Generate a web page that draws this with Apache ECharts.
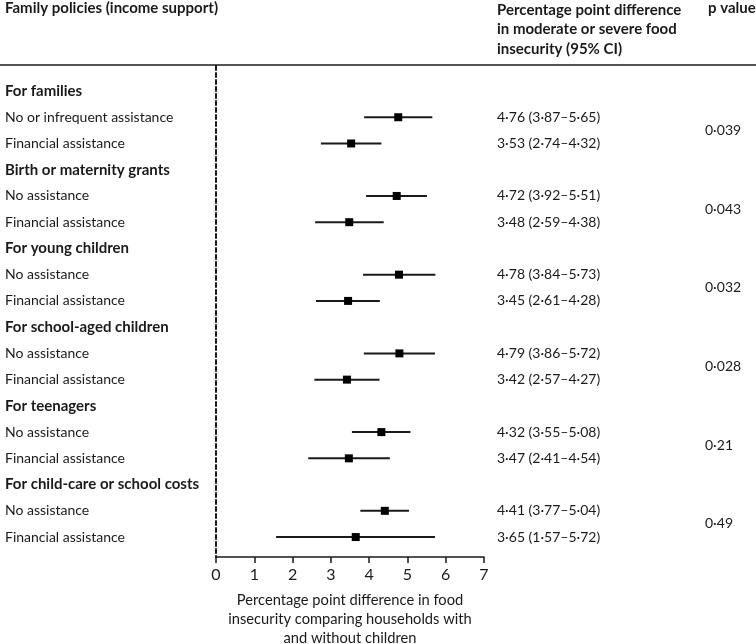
<!DOCTYPE html>
<html><head><meta charset="utf-8">
<script src="https://cdn.jsdelivr.net/npm/echarts@6/dist/echarts.min.js"></script>
<style>html,body{margin:0;padding:0;background:#fff}#c{width:756px;height:644px}</style>
</head><body><div id="c"></div>
<script>
const groups = ['For families','Birth or maternity grants','For young children','For school-aged children','For teenagers','For child-care or school costs'];
const rowLabels = [
  ['No or infrequent assistance','Financial assistance'],
  ['No assistance','Financial assistance'],
  ['No assistance','Financial assistance'],
  ['No assistance','Financial assistance'],
  ['No assistance','Financial assistance'],
  ['No assistance','Financial assistance']
];
const estimates = [4.76,3.53,4.72,3.48,4.78,3.45,4.79,3.42,4.32,3.47,4.41,3.65];
const lower     = [3.87,2.74,3.92,2.59,3.84,2.61,3.86,2.57,3.55,2.41,3.77,1.57];
const upper     = [5.65,4.32,5.51,4.38,5.73,4.28,5.72,4.27,5.08,4.54,5.04,5.72];
const pValues   = ['0·039','0·043','0·032','0·028','0·21','0·49'];
const xTicks    = [0,1,2,3,4,5,6,7];

const FONT = 'Lato';
const fmt = v => v.toFixed(2).replace('.', '·');

const textRows = [];
const ciRows = [];
const pRows = [];
let r = 0, k = 0;
groups.forEach((g, gi) => {
  textRows.push([r, g, 1]); r++;
  const startRow = r;
  rowLabels[gi].forEach(lbl => {
    textRows.push([r, lbl, 0]);
    ciRows.push([estimates[k], lower[k], upper[k], r, fmt(estimates[k]) + ' (' + fmt(lower[k]) + '–' + fmt(upper[k]) + ')']);
    k++; r++;
  });
  pRows.push([(startRow + r - 1) / 2, pValues[gi]]);
});

const chart = echarts.init(document.getElementById('c'));
const dark = '#1a1a1a';
chart.setOption({
  animation: false,
  grid: { left: 216, right: 272, top: 66, bottom: 87, containLabel: false, outerBoundsMode: 'none' },
  xAxis: {
    type: 'value', min: 0, max: 7, interval: 1, position: 'bottom',
    axisLine: { show: true, onZero: false, lineStyle: { color: dark, width: 1.5 } },
    axisTick: { show: true, length: 6, lineStyle: { color: dark, width: 1.5 } },
    axisLabel: { fontFamily: FONT, fontSize: 16, color: dark, margin: 10,
      formatter: v => xTicks.includes(v) ? String(v) : '' },
    splitLine: { show: false },
    name: 'Percentage point difference in food\ninsecurity comparing households with\nand without children',
    nameLocation: 'middle', nameGap: 34,
    nameTextStyle: { fontFamily: FONT, fontSize: 14.7, color: dark, lineHeight: 19, verticalAlign: 'top' }
  },
  yAxis: {
    type: 'value', inverse: true, min: -0.953, max: 17.76,
    axisLine: { show: true, onZero: false, lineStyle: { color: dark, width: 2, type: [4, 3] } },
    axisTick: { show: false }, axisLabel: { show: false }, splitLine: { show: false }
  },
  graphic: [
    { type: 'text', left: 5, top: 1, style: { text: 'Family policies (income support)', font: 'bold 15px ' + FONT, fill: dark } },
    { type: 'text', left: 497, top: 0, style: { text: 'Percentage point difference\nin moderate or severe food\ninsecurity (95% CI)', font: 'bold 15px ' + FONT, fill: dark, lineHeight: 19.5 } },
    { type: 'text', left: 708, top: 1, style: { text: 'p value', font: 'bold 15px ' + FONT, fill: dark } },
    { type: 'line', shape: { x1: 0, y1: 65, x2: 756, y2: 65 }, style: { stroke: dark, lineWidth: 1.5 } }
  ],
  series: [
    {
      type: 'custom', data: ciRows,
      renderItem: (params, api) => {
        const a = api.coord([api.value(1), api.value(3)]);
        const b = api.coord([api.value(2), api.value(3)]);
        const c = api.coord([api.value(0), api.value(3)]);
        const s = 8;
        return { type: 'group', children: [
          { type: 'line', shape: { x1: a[0], y1: a[1], x2: b[0], y2: b[1] }, style: { stroke: dark, lineWidth: 2 } },
          { type: 'rect', shape: { x: c[0] - s/2, y: c[1] - s/2, width: s, height: s }, style: { fill: '#000' } },
          { type: 'text', x: 497, y: c[1], style: { text: ciRows[params.dataIndex][4], font: '14px ' + FONT, fill: dark, verticalAlign: 'middle', align: 'left' } }
        ] };
      },
      encode: { x: 0, y: 3 }
    },
    {
      type: 'custom', data: textRows,
      renderItem: (params, api) => {
        const p = api.coord([0, api.value(0)]);
        const bold = textRows[params.dataIndex][2];
        return { type: 'text', x: 5, y: p[1], style: { text: textRows[params.dataIndex][1], font: (bold ? 'bold 15px ' : '14px ') + FONT, fill: dark, verticalAlign: 'middle', align: 'left' } };
      },
      encode: { y: 0 }
    },
    {
      type: 'custom', data: pRows,
      renderItem: (params, api) => {
        const p = api.coord([0, api.value(0)]);
        return { type: 'text', x: 705, y: p[1], style: { text: pRows[params.dataIndex][1], font: '14px ' + FONT, fill: dark, verticalAlign: 'middle', align: 'left' } };
      },
      encode: { y: 0 }
    }
  ]
});
</script></body></html>
